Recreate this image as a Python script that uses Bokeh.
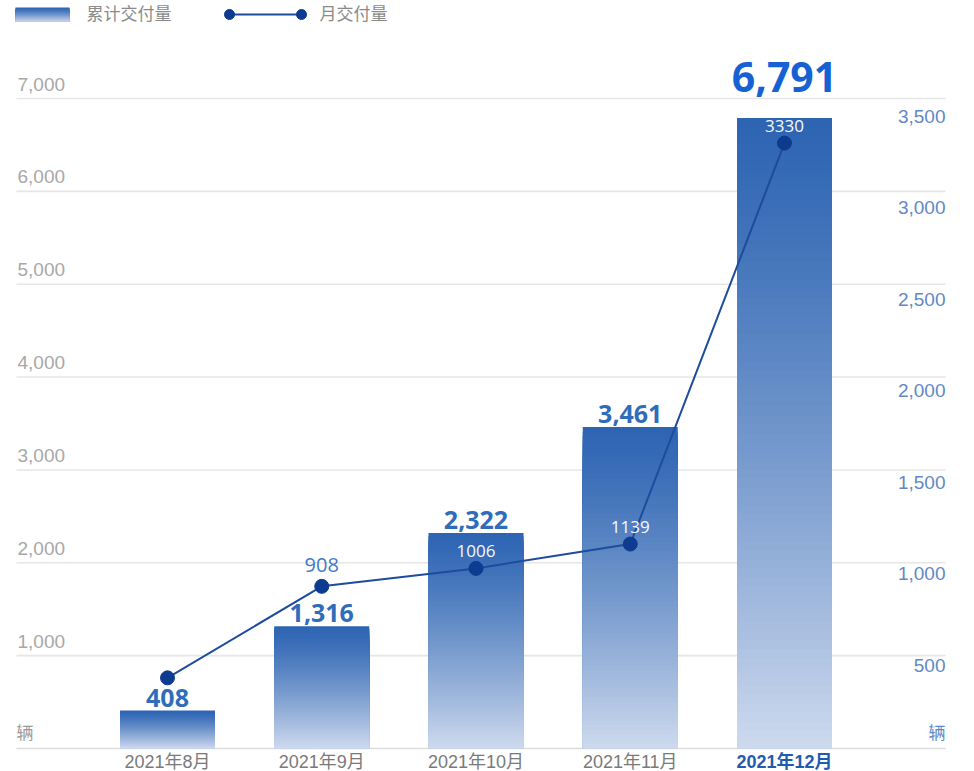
import numpy as np
from bokeh.plotting import figure
from bokeh.models import Range1d, ColumnDataSource
from bokeh.core.properties import value
from bokeh.embed import file_html
from bokeh.resources import INLINE

# ---------------- data ----------------
MONTHS = ["2021年8月", "2021年9月", "2021年10月", "2021年11月", "2021年12月"]
CUMULATIVE = [408, 1316, 2322, 3461, 6791]        # 累计交付量 (left axis)
MONTHLY = [408, 908, 1006, 1139, 3330]            # 月交付量 (right axis)
LEFT_TICKS = [1000, 2000, 3000, 4000, 5000, 6000, 7000]
RIGHT_TICKS = [500, 1000, 1500, 2000, 2500, 3000, 3500]
UNIT = "辆"
LEGEND_BAR = "累计交付量"
LEGEND_LINE = "月交付量"

# ---------------- layout helpers ----------------
W, H = 974, 771
X_PX0, X_STEP = 167.0, 154.25            # pixel of first category, pixels per category
XS = -X_PX0 / X_STEP
XE = XS + W / X_STEP
ZERO_PX, TOP_PX = 748.0, 98.0            # left scale: pixel of 0 and of 7000
K = (ZERO_PX - TOP_PX) / 7000.0          # pixels per left-axis unit
YS = -(H - ZERO_PX) / K
YE = YS + H / K
R_ZERO_PX, R_K = 752.0, 0.183            # right scale: pixel of 0, pixels per unit
RS = -(H - R_ZERO_PX) / R_K
RE = RS + H / R_K


def px2x(px):
    return XS + px / X_STEP


def py2y(py):
    return YE - py / K


def hex2rgb(h):
    h = h.lstrip("#")
    return np.array([int(h[i:i + 2], 16) for i in (0, 2, 4)], dtype=float)


def mix(c1, c2, t):
    c = hex2rgb(c1) * (1 - t) + hex2rgb(c2) * t
    return "#%02x%02x%02x" % tuple(int(round(v)) for v in c)


TOP_C, BOT_C = "#2e65b3", "#cfdbee"
GRID_C = "#e6e6e6"
LINE_C = "#1d4c9c"
DOT_C = "#0d3b90"
LEFT_TXT = "#a8a8a8"
RIGHT_TXT = "#6288c6"
LABEL_BLUE = "#2f6dba"
BIG_BLUE = "#1662d2"
FONT = "Liberation Sans, Noto Sans CJK SC, sans-serif"
NUM_FONT = "Open Sans, Noto Sans, sans-serif"

p = figure(width=W, height=H, x_range=Range1d(XS, XE), y_range=Range1d(YS, YE),
           x_axis_type=None, y_axis_type=None, output_backend="svg",
           toolbar_location=None, min_border=0)
p.outline_line_color = None
p.background_fill_color = "white"
p.border_fill_color = "white"
p.extra_y_ranges = {"right": Range1d(RS, RE)}

xs = np.arange(len(MONTHS))

# ---------------- grid lines ----------------
gx0, gx1 = px2x(16), px2x(945)
p.segment(x0=[gx0] * len(LEFT_TICKS), x1=[gx1] * len(LEFT_TICKS), y0=LEFT_TICKS, y1=LEFT_TICKS,
          line_color=GRID_C, line_width=1.6)
p.segment(x0=[gx0], x1=[gx1], y0=[0], y1=[0], line_color="#dcdcdc", line_width=1.6)

# ---------------- gradient bars (nested slices) ----------------
N = 70
bx, bt, bc = [], [], []
for i, v in enumerate(CUMULATIVE):
    for k in range(N, 0, -1):
        frac = k / N
        bx.append(xs[i])
        bt.append(v * frac)
        bc.append(mix(TOP_C, BOT_C, (1 - frac) ** 1.25))
p.vbar(x="x", top="top", bottom=0, width=95 / X_STEP, fill_color="color", line_color=None,
       source=ColumnDataSource(dict(x=bx, top=bt, color=bc)))

# ---------------- monthly line ----------------
p.line(xs, MONTHLY, y_range_name="right", line_color=LINE_C, line_width=2)
p.scatter(xs, MONTHLY, y_range_name="right", size=14, fill_color=DOT_C, line_color=DOT_C)

# ---------------- axis labels ----------------
p.text(x=[px2x(17)] * len(LEFT_TICKS), y=LEFT_TICKS, text=[f"{t:,}" for t in LEFT_TICKS],
       text_align="left", text_baseline="bottom", y_offset=-8, text_font=value(FONT),
       text_font_size="19px", text_color=LEFT_TXT)
p.text(x=[px2x(945)] * len(RIGHT_TICKS), y=RIGHT_TICKS, text=[f"{t:,}" for t in RIGHT_TICKS],
       y_range_name="right", text_align="right", text_baseline="middle", y_offset=4,
       text_font=value(FONT), text_font_size="19px", text_color=RIGHT_TXT)
p.text(x=[px2x(16)], y=[0], text=[UNIT], text_align="left", text_baseline="bottom", y_offset=-6,
       text_font=value(FONT), text_font_size="17px", text_color="#9a9a9a")
p.text(x=[px2x(945)], y=[0], text=[UNIT], text_align="right", text_baseline="bottom", y_offset=-6,
       text_font=value(FONT), text_font_size="17px", text_color=RIGHT_TXT)

# category labels
p.text(x=xs[:-1], y=[0] * (len(MONTHS) - 1), text=MONTHS[:-1], text_align="center",
       text_baseline="top", y_offset=3, text_font=value(FONT), text_font_size="18px",
       text_color="#7a7a7a")
p.text(x=xs[-1:], y=[0], text=MONTHS[-1:], text_align="center", text_baseline="top", y_offset=3,
       text_font=value(FONT), text_font_size="18px", text_color="#1f5cb0", text_font_style="bold")

# ---------------- value labels ----------------
cum_txt = [f"{v:,}" for v in CUMULATIVE]
p.text(x=xs[:-1], y=CUMULATIVE[:-1], text=cum_txt[:-1], text_align="center",
       text_baseline="bottom", y_offset=-4, text_font=value(NUM_FONT), text_font_size="25px",
       text_font_style="bold", text_color=LABEL_BLUE)
p.text(x=xs[-1:], y=CUMULATIVE[-1:], text=cum_txt[-1:], text_align="center",
       text_baseline="bottom", y_offset=-26, text_font=value(NUM_FONT), text_font_size="41px",
       text_font_style="bold", text_color=BIG_BLUE)

mon_txt = [str(v) for v in MONTHLY]
p.text(x=xs[1:2], y=MONTHLY[1:2], text=mon_txt[1:2], y_range_name="right", text_align="center",
       text_baseline="bottom", y_offset=-14, text_font=value(NUM_FONT), text_font_size="20px",
       text_color="#3d7bc6")
p.text(x=xs[2:], y=MONTHLY[2:], text=mon_txt[2:], y_range_name="right", text_align="center",
       text_baseline="bottom", y_offset=-11, text_font=value(NUM_FONT), text_font_size="17px",
       text_font_style="normal", text_color="#f7f9fd")

# ---------------- legend (drawn) ----------------
LN = 20
lx0, lx1, ly_top, ly_bot = px2x(15), px2x(69), py2y(7), py2y(21)
lq = dict(left=[], right=[], top=[], bottom=[], color=[])
for k in range(LN, 0, -1):
    frac = k / LN
    lq["left"].append(lx0)
    lq["right"].append(lx1)
    lq["top"].append(ly_bot + (ly_top - ly_bot) * frac)
    lq["bottom"].append(ly_bot)
    lq["color"].append(mix(TOP_C, BOT_C, (1 - frac) ** 1.25))
p.quad(left="left", right="right", top="top", bottom="bottom", fill_color="color",
       line_color=None, source=ColumnDataSource(lq))
p.text(x=[px2x(86)], y=[py2y(14)], text=[LEGEND_BAR], text_align="left", text_baseline="middle",
       text_font=value(FONT), text_font_size="17px", text_color="#8a8a8a")
p.line([px2x(229), px2x(301)], [py2y(14), py2y(14)], line_color=LINE_C, line_width=2)
p.scatter([px2x(229), px2x(301)], [py2y(14), py2y(14)], size=10, fill_color=DOT_C,
          line_color=DOT_C)
p.text(x=[px2x(319)], y=[py2y(14)], text=[LEGEND_LINE], text_align="left", text_baseline="middle",
       text_font=value(FONT), text_font_size="17px", text_color="#8a8a8a")

open("out.html", "w").write(file_html(p, INLINE))
